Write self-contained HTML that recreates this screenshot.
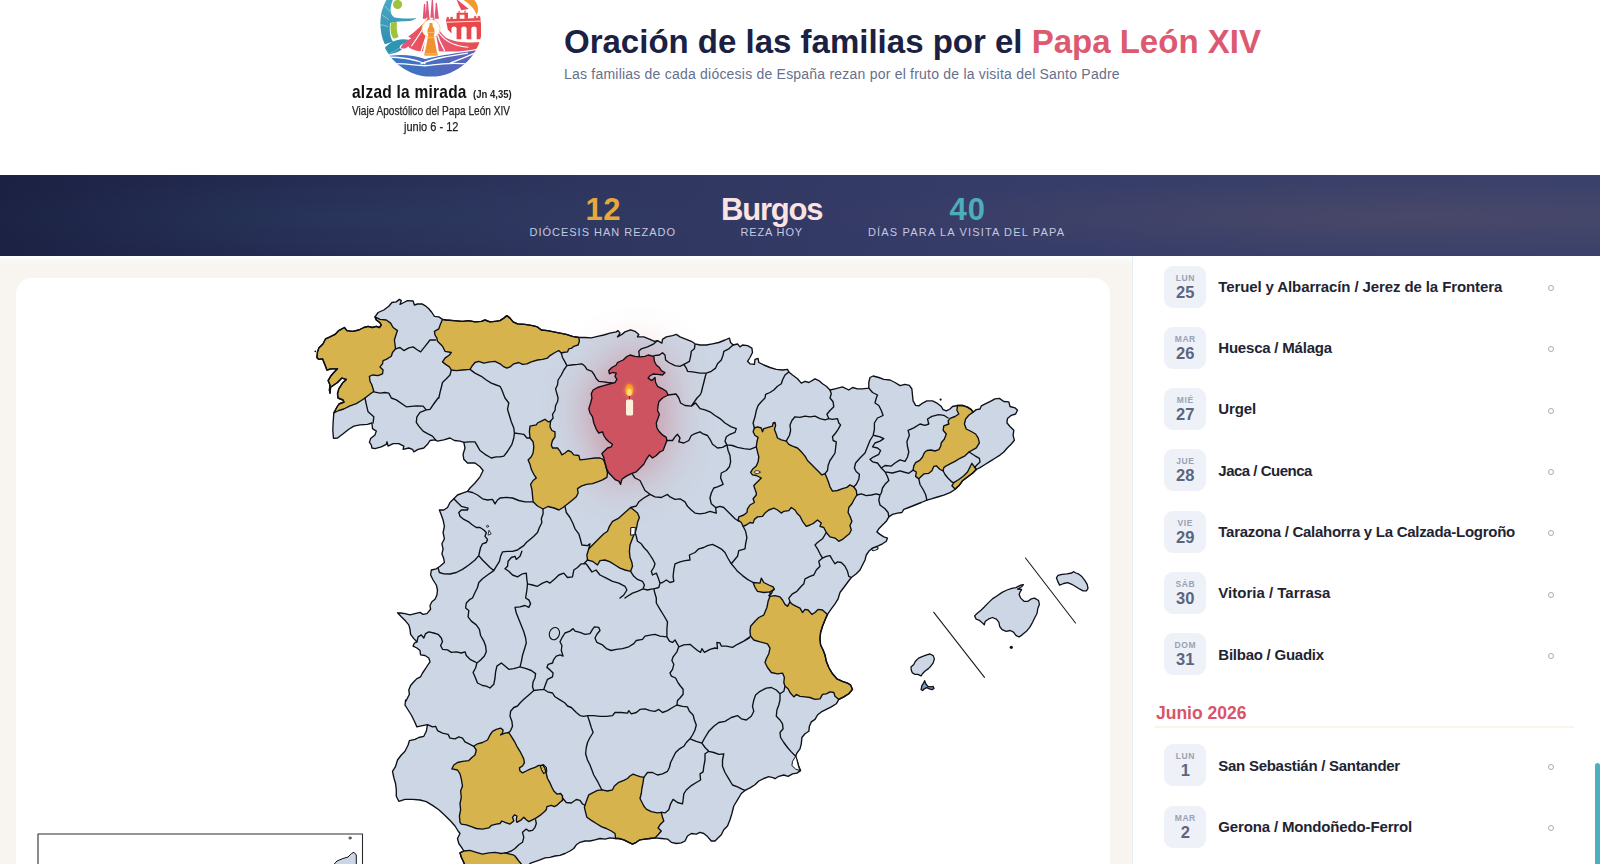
<!DOCTYPE html>
<html lang="es">
<head>
<meta charset="utf-8">
<title>Oración de las familias por el Papa León XIV</title>
<style>
*{box-sizing:border-box;margin:0;padding:0}
html,body{width:1600px;height:864px;overflow:hidden;background:#f8f5f0;font-family:"Liberation Sans","DejaVu Sans",sans-serif;color:#1b2140}
.abs{position:absolute}
#hdr{position:absolute;left:0;top:0;width:1600px;height:175px;background:#fff}
#title{position:absolute;left:564px;top:21.5px;font-size:33px;font-weight:700;color:#1b2143;white-space:nowrap;letter-spacing:0;line-height:40px}
#title span{color:#dc5a70}
#sub{position:absolute;left:564px;top:64px;font-size:14px;letter-spacing:.216px;color:#66708c;white-space:nowrap;line-height:20px}
#band{position:absolute;left:0;top:175px;width:1600px;height:81px;background:radial-gradient(ellipse 620px 38px at 88% 52%,rgba(232,150,100,.085),rgba(232,150,100,0) 100%),radial-gradient(ellipse 420px 38px at 22% 52%,rgba(74,171,184,.06),rgba(74,171,184,0) 100%),linear-gradient(100deg,#1b2142 0%,#252c53 18%,#2f365f 38%,#353c68 60%,#394069 85%,#3a416b 100%)}
.num{position:absolute;top:17.5px;font-weight:700;font-size:31px;line-height:34px;white-space:nowrap}
.lbl{position:absolute;top:50px;font-size:11px;color:#c4c8e0;line-height:14px;white-space:nowrap}
#card{position:absolute;left:16px;top:278px;width:1094px;height:620px;background:#fff;border-radius:16px}
#side{position:absolute;left:1132px;top:256px;width:468px;height:608px;background:#fff;border-left:1px solid #e4edf1}
.it{position:absolute;left:0;width:467px;height:42px}
.bd{position:absolute;left:31.3px;top:0;width:42px;height:42px;border-radius:9px;background:#eef1f7;text-align:center}
.bd b{display:block;font-size:8.5px;letter-spacing:.6px;color:#99a2b4;line-height:9px;margin-top:8px}
.bd i{display:block;font-style:normal;font-weight:700;font-size:16.5px;color:#5a6680;line-height:16px;margin-top:1px}
.nm{position:absolute;left:85.3px;top:10.3px;font-size:15px;font-weight:700;color:#1f2433;line-height:22px;white-space:nowrap}
.dot{position:absolute;left:415px;top:19.5px;width:6px;height:6px;border:1px solid #a9abb0;border-radius:50%}
#mon{position:absolute;left:23px;top:444.5px;font-size:17.5px;font-weight:700;color:#d9546b;line-height:24px}
#monl{position:absolute;left:22px;top:469.5px;width:419px;height:2px;background:#fbf5e7}
.lgt{position:absolute;white-space:nowrap;transform-origin:0 50%;color:#111}
#lg1{left:351.5px;top:81px;font-size:19px;font-weight:700;line-height:22px;transform:scaleX(.815);letter-spacing:.3px}
#lg1b{left:472.5px;top:87px;font-size:10.5px;font-weight:700;line-height:14px;transform:scaleX(.91);color:#222}
#lg2{left:351.5px;top:103px;font-size:13.5px;line-height:16px;transform:scaleX(.747);color:#222;-webkit-text-stroke:.25px #222}
#lg3{left:404px;top:119px;font-size:13.5px;line-height:16px;transform:scaleX(.814);color:#222;-webkit-text-stroke:.25px #222}
#wl{position:absolute;left:0;top:256px;width:1132px;height:9px;background:linear-gradient(#fff 0,#fff 22%,#fbf9f6 40%,#f8f5f0 100%)}
#sb{position:absolute;left:1595px;top:763px;width:5px;height:101px;background:#4fb0bd;border-radius:3px 3px 0 0}
</style>
</head>
<body>
<div id="hdr">
<svg id="logo" width="130" height="85" viewBox="0 0 1321 864" style="position:absolute;left:370px;top:0;overflow:hidden">
<defs>
<clipPath id="lc"><circle cx="620" cy="257" r="521"/></clipPath>
<linearGradient id="lb" x1="0" y1="0" x2="1" y2="0"><stop offset="0" stop-color="#3579c4"/><stop offset=".55" stop-color="#4a6dc0"/><stop offset="1" stop-color="#6a5cb4"/></linearGradient>
<linearGradient id="lr" x1="0" y1="0" x2="1" y2="0"><stop offset="0" stop-color="#e4557a"/><stop offset=".5" stop-color="#ea5463"/><stop offset="1" stop-color="#e84a45"/></linearGradient>
<linearGradient id="lt" x1="0" y1="0" x2="0" y2="1"><stop offset="0" stop-color="#4aa9c2"/><stop offset="1" stop-color="#2f8fb0"/></linearGradient>
</defs>
<g clip-path="url(#lc)">
<!-- teal dancer -->
<path d="M150 -20C95 120 85 320 150 450L235 425C200 380 195 300 205 235C230 222 300 218 400 214C440 205 465 192 472 182C420 190 330 192 250 178C200 150 195 80 240 -20Z" fill="url(#lt)"/>
<path d="M150 60L205 120M120 150L190 200M108 250L185 270" stroke="#bfe4ec" stroke-width="9" fill="none" opacity=".7"/>
<circle cx="280" cy="45" r="46" fill="#9cc43c"/>
<path d="M213 232C232 224 258 222 274 226C268 280 274 340 292 372C276 388 250 394 236 390C208 350 202 290 213 232Z" fill="#9cc43c"/>
<!-- teal wave -->
<path d="M108 568C130 490 190 430 270 408C340 388 410 398 440 432C448 452 432 462 412 448C380 428 330 436 306 466C296 484 306 500 326 498C300 528 240 548 108 568Z" fill="#2f95b3"/>
<path d="M160 560C260 520 330 470 350 440" stroke="#a8dbe6" stroke-width="8" fill="none" opacity=".6"/>
<!-- sagrada spires -->
<path d="M548 40L560 40L572 190L536 190ZM575 10L588 10L604 180L566 180ZM628 -10L640 -10L650 180L614 180ZM668 30L680 30L700 190L656 190Z" fill="#e4557a"/>
<!-- left fan -->
<path d="M596 170C540 260 430 340 388 372L420 392C350 420 320 460 314 488C340 500 372 492 388 470C400 500 470 520 540 522C548 440 580 320 612 200Z" fill="url(#lr)"/>
<path d="M560 250C520 330 470 400 420 470M590 300C570 380 540 450 520 520" stroke="#fff" stroke-width="12" fill="none"/>
<!-- right fan / swoosh -->
<path d="M648 170C668 250 700 320 770 380C850 428 1000 440 1135 428L1125 480C1040 520 860 530 700 522C690 440 668 320 634 200Z" fill="url(#lr)"/>
<path d="M668 300C690 380 720 450 760 520M700 330C760 420 850 470 1000 480" stroke="#fff" stroke-width="12" fill="none"/>
<!-- halo + statue -->
<circle cx="620" cy="290" r="92" fill="#fff" stroke="#f3cf8a" stroke-width="9"/>
<path d="M606 234L634 234L638 270C658 290 662 330 648 360L682 540L556 540L592 360C578 330 582 290 602 270Z" fill="#f0922f"/>
<path d="M546 540L692 540L684 566L556 566Z" fill="#f2a53a"/>
<path d="M580 330L660 330M574 380L668 380" stroke="#fbd9a8" stroke-width="7" fill="none" opacity=".8"/>
<!-- aqueduct -->
<path d="M770 196L1122 184L1128 250L1128 400L1084 400L1084 290C1084 262 1030 262 1030 290L1030 400L982 400L982 290C982 262 928 262 928 290L928 400L880 400L880 290C880 262 828 262 828 290L828 340L790 300Z" fill="#e8484a"/>
<path d="M776 226L1124 214" stroke="#fff" stroke-width="9" fill="none"/>
<path d="M782 196L782 176L800 176L800 196M820 195L820 175L838 175L838 195M1060 188L1060 168L1078 168L1078 188M1098 186L1098 166L1116 166L1116 186" fill="#e8484a" stroke="#e8484a" stroke-width="6"/>
<path d="M880 192L880 130L900 130L900 108L912 108L912 130L960 130L960 106L972 106L972 130L996 130L996 190Z" fill="#e8484a"/>
<path d="M912 150L960 150L960 190L912 190Z" fill="#fff"/>
<!-- sail + flame -->
<path d="M878 -10L1004 92L928 104L902 52Z" fill="#e84a5a"/>
<path d="M935 -10C1000 30 1060 80 1082 150C1110 110 1104 40 1050 -10Z" fill="#f39a2e"/>
<!-- sea -->
<path d="M96 588C240 548 420 548 560 600C700 560 900 540 1130 500L1180 900L60 900Z" fill="url(#lb)"/>
<path d="M130 580C300 575 450 600 560 648M520 648C640 590 800 570 990 540M230 648C420 640 520 690 640 660C760 640 880 640 1010 650M820 640C900 610 1000 570 1110 520" stroke="#fff" stroke-width="13" fill="none" stroke-linecap="round"/>
</g>
</svg>
<div id="lg1" class="lgt">alzad la mirada</div><div id="lg1b" class="lgt">(Jn 4,35)</div>
<div id="lg2" class="lgt">Viaje Apostólico del Papa León XIV</div>
<div id="lg3" class="lgt">junio 6 - 12</div>

<div id="title">Oración de las familias por el <span>Papa León XIV</span></div>
<div id="sub">Las familias de cada diócesis de España rezan por el fruto de la visita del Santo Padre</div>
</div>
<div id="band">
<div class="num" style="left:585.5px;color:#eaa83a;letter-spacing:.6px">12</div><div class="lbl" style="left:529.5px;letter-spacing:.99px">DIÓCESIS HAN REZADO</div>
<div class="num" style="left:721px;color:#fbe3e3;letter-spacing:-1.2px">Burgos</div><div class="lbl" style="left:740.5px;letter-spacing:.86px">REZA HOY</div>
<div class="num" style="left:949.5px;color:#4dadba;letter-spacing:1px">40</div><div class="lbl" style="left:868px;letter-spacing:1.17px">DÍAS PARA LA VISITA DEL PAPA</div>
</div>
<div id="wl"></div>
<div id="card">

</div>
<svg id="map" width="1600" height="864" viewBox="0 0 1600 864" style="position:absolute;left:0;top:0;overflow:hidden">
<defs><filter id="glow" x="-100%" y="-100%" width="300%" height="300%"><feGaussianBlur stdDeviation="24"/></filter><radialGradient id="fl" cx="50%" cy="70%" r="70%"><stop offset="0" stop-color="#ffd84a"/><stop offset=".55" stop-color="#fba931"/><stop offset="1" stop-color="#f28a22"/></radialGradient><filter id="fb" x="-50%" y="-50%" width="200%" height="200%"><feGaussianBlur stdDeviation=".7"/></filter><radialGradient id="halo" cx="50%" cy="50%" r="50%"><stop offset="0" stop-color="#ff9e3c" stop-opacity=".55"/><stop offset="1" stop-color="#ffb43c" stop-opacity="0"/></radialGradient></defs>
<g stroke-linejoin="round" stroke-linecap="round">
<path d="M333.5 438.3 L332.8 430.5 L333.1 423 L333.8 413 L337 407 L339 404 L344 402 L343 400 L338 398 L337.5 393.8 L338.8 388.8 L342.5 383.1 L346.3 379.4 L341.9 378.1 L337.5 382.5 L330.6 387.3 L330 393.1 L329.4 390 L330 385 L328.1 380.6 L330.6 376.3 L333.8 372.5 L337.5 368.8 L331.3 368.8 L326.9 370 L325 365 L322.5 358.8 L318.8 359.4 L316.9 357.5 L317.5 351.9 L318.8 348.1 L323.1 343.8 L325.6 338.8 L330 336.9 L335 334.4 L338.8 330.6 L344.4 327.5 L346.9 330.6 L352.5 331.3 L358.8 330 L363.8 327.5 L368.1 326.3 L372.5 327.5 L376.3 326.3 L379.4 327.5 L381.3 325 L380 322.8 L376.3 320 L375 316.9 L378.1 312.5 L383.8 310 L388.8 306.3 L391.9 302.5 L396.3 301.9 L399.4 299.4 L401.3 300.6 L400 304.4 L403.8 302.5 L407.5 300.6 L413.1 301 L414.4 305 L417.5 304 L421.9 303.8 L425 305.6 L428.8 308.8 L431.9 312.5 L434.4 316.3 L438.8 316.9 L442.5 319.4 L446.3 320 L453.8 320.6 L462.5 321.3 L468.8 320.6 L475 321.9 L481.3 321.3 L485 320 L490 321.9 L495 321.3 L500 320.6 L503.8 318.1 L506.9 315.6 L510 318.1 L513.1 321.9 L517.5 323.8 L525 324.4 L532.5 325.6 L537.5 326.9 L541.3 330 L547.5 330.6 L553.8 331.9 L560 333.1 L566.3 334.4 L572.5 336.3 L578.8 337.5 L585 337.5 L591.3 337.8 L597.5 336.3 L603.8 335 L610 333.1 L616.3 331.9 L618.1 330.6 L620 333.1 L617.5 336.9 L621.9 334.4 L625 331.9 L630.6 329.8 L635 331.3 L638.8 334.4 L637.5 336.9 L643.8 336.9 L650 339.4 L654.4 341.3 L657.5 340.6 L661.9 343.1 L662.5 339.4 L666.3 336.9 L672.5 335.6 L676.3 334.4 L680 336.9 L686.3 339.4 L691.3 341.3 L695 343.8 L700 345 L706.3 345 L712.5 343.8 L718.8 342.5 L725 340 L729.4 338.1 L730.6 342.5 L733.1 345 L737.5 344 L740 346.9 L742.5 345 L747.5 345.6 L751.9 348.1 L752.5 352.5 L750 357.5 L747.5 361.3 L750 363.8 L754.4 364.4 L755 359.4 L758.1 358.5 L758.8 362.5 L763.8 365 L770 367.5 L776.3 369.4 L782.5 370 L787.5 369.4 L788.8 371.9 L792.5 375 L797.5 378.8 L801.3 383.1 L805 381.3 L808.8 382.5 L815 378.8 L818.8 380.6 L822.5 383.8 L826.3 386.3 L830 390 L835 388.8 L842.5 386.9 L848.8 390 L852.5 387.5 L857.5 388.8 L862.5 388.8 L868.8 388.1 L868.8 382.5 L870 377.5 L873.1 376 L878.8 377.5 L883.8 379.4 L890 380 L895 382.5 L900 385.6 L905 384.3 L909.4 385.3 L911.9 389 L912.5 395.3 L913.1 400.9 L915.6 405.3 L918.8 405.9 L923.1 402.8 L926.9 400.9 L932.5 400.9 L937.5 403.4 L941.3 406.5 L943.1 409.6 L946.3 410.9 L950 409 L952.5 406.5 L957.5 405.5 L962.5 405.3 L967.5 407.1 L971.3 409.6 L973.1 412.1 L976.3 409.6 L980 409 L981.3 405.9 L986.3 403.4 L991.3 400.9 L995 398.8 L999.4 398.4 L1003.8 401.5 L1008.8 401.8 L1010 406.5 L1015 407.8 L1017.5 410.3 L1015.6 414 L1011.3 415.3 L1007.5 418.4 L1006.9 422.8 L1010 426.5 L1013.8 430.3 L1013.1 435.3 L1014.4 440.3 L1011.3 444 L1007.5 447.8 L1003.8 452 L1000 455.1 L995 458.3 L990 461.4 L985 464.5 L980 467.6 L976.3 469.5 L972.5 473.3 L967.5 477 L962.5 480.8 L958.8 485.8 L955 489.5 L950 492.6 L943.8 495.1 L937.5 497 L931.3 498.9 L926.9 500.1 L921.3 502.5 L915 505 L908.8 507.5 L903.8 509.4 L901.9 512.5 L897.5 513.1 L892.5 514.4 L888.8 516.9 L886.3 521.3 L882.5 525 L878.8 528.8 L876.9 531.9 L880 534.4 L883.8 536.9 L887.5 538.1 L886.3 541.3 L882.5 543.8 L878.8 545.6 L872.5 548.1 L868.8 551.3 L866.3 555 L865 560 L862.5 565 L860 570 L856.3 573.8 L851.3 577.5 L847.5 582.5 L843.8 587.5 L840 592.5 L838.1 598.8 L835 603.8 L831.3 608.8 L827.5 614.4 L825 620 L822.5 626.3 L820.6 632.5 L820 638.8 L820.6 645 L823.1 650 L825 655 L826.3 661.3 L828.8 667.5 L832.5 673.8 L836.9 678.8 L842.5 681.3 L847.5 683.1 L850.6 685 L852.5 689.4 L848.8 693.8 L843.8 696.9 L838.8 699.4 L836.3 703.8 L831.3 706.9 L826.3 709.4 L821.3 711.9 L817.5 715 L815 719.4 L811.3 721.9 L809.4 726.3 L808.8 731.3 L805 733.8 L801.9 737.5 L801.3 743.8 L800 748.8 L796.9 753.1 L795.6 756.3 L797.5 761.3 L798.8 766.3 L800.6 770.6 L796.9 773.1 L792.5 773.8 L788.1 776.3 L783.8 775 L778.8 776.3 L775 778.8 L773.8 777.9 L768.8 776.6 L763.8 778.5 L758.8 781 L755 784.8 L750 787.9 L745 790.4 L741.3 793.5 L737.5 799.8 L733.8 806 L731.9 813.5 L730 819.8 L727.5 826 L723.8 829.8 L721.3 834.8 L717.5 838.5 L715 841 L711.3 841 L707.5 836.6 L703.8 833.5 L700 832.3 L696.3 834.1 L691.3 833.5 L687.5 836 L685 841 L681.3 842.9 L676.3 843.5 L671.3 842.3 L667.5 839.1 L661.3 838.5 L655 837.9 L650 838.5 L645 839.1 L640 839.8 L636.3 842.3 L632.5 844.1 L628.8 842.3 L623.8 839.8 L618.8 838.5 L615.6 838.5 L610 837.9 L605 839.1 L600 838.5 L595 839.8 L590 841 L585 841 L580 842.3 L576.3 844.8 L573.8 848.5 L570 851 L565 853.5 L560 855.4 L555 856 L550 857.3 L545 857.9 L540 859.8 L535 861.6 L531.3 862.9 L529.4 864 L527 870 L464.4 870 L464.4 864 L463.1 861 L461.3 857.3 L460 852.9 L463.8 851 L461.9 847.9 L458.8 843.5 L457.5 838.5 L460 833.5 L458.1 831 L455 826 L450.6 821 L445 815.4 L438.8 809.8 L432.5 805.4 L426.3 801.6 L420 800 L412.5 799.4 L405 799.4 L398.8 801.3 L396.3 796.3 L396.3 790 L395.6 783.8 L393.8 777.5 L392.5 771.3 L395.6 766.3 L397.5 760 L401.3 755 L405 751.3 L408.1 745 L409.4 740.6 L415 739.4 L418.8 737.5 L423.8 736.3 L426.3 731.3 L427.5 724.6 L422.5 725.6 L416.9 726.9 L414.4 721.3 L411.3 715 L408.1 710 L405 705 L405.6 700 L405.6 701.8 L407.5 698 L409.4 694.3 L408.8 689.9 L410.6 685.5 L413.8 681.8 L416.9 678.6 L420.6 676.8 L422.5 673 L425 669.3 L427.5 665.5 L430 661.8 L428.8 658 L425 655.5 L420.6 654.9 L420 650.5 L416.9 648 L413.1 646.1 L414.4 643 L416.9 641.8 L413.8 638.6 L410.6 634.3 L410 629.3 L408.8 624.9 L405.6 621.1 L401.3 616.8 L397.5 612.8 L400.6 613 L405 613.6 L410 614.9 L415 613.6 L420 612.4 L423.1 614.3 L426.9 613.6 L430.6 609.3 L430 605.5 L431.9 601.8 L435 599.3 L435.6 598 L436.9 595 L437.5 590 L436.3 585 L433.1 580 L430.6 575 L431.3 570 L436.3 568.8 L440 566.3 L444.4 562.5 L443.8 558.8 L441.9 553.8 L443.1 548.8 L441.9 543.8 L444.4 538.8 L443.1 532.5 L444.4 526.3 L443.1 520 L441.3 515 L439.4 510 L443.8 510 L447.5 507.5 L450 502.5 L453.8 498.8 L457.5 495 L462.5 493.1 L467.5 491.3 L470 488 L475 483 L480 476.8 L483.1 470.5 L480 466.8 L475 463 L467.5 463 L463.8 459.3 L463.1 454.3 L465 448 L463.8 442.4 L460 441.1 L454.4 440.5 L450 438 L443.8 439.9 L437.5 441.1 L435 439.9 L430 440.5 L427.5 444.3 L423.8 448 L418.1 449.3 L413.8 451.8 L412.5 449.3 L408.8 448 L403.1 449.3 L403.8 446.1 L398.8 443.6 L393.1 443.6 L388.1 446.1 L386.9 441.8 L386.3 444.3 L381.3 446.8 L375 448.6 L371.9 448 L371.3 444.9 L369.4 442.4 L370.6 438.6 L375 434.9 L376.3 431.1 L372.5 428.6 L371.9 423 L367.5 424.3 L360 424.9 L353.8 426.1 L348.8 429.3 L342.5 434.3 L337.5 438 L333.5 438.3Z" fill="#ccd6e4"/>
<path d="M591.9 398 L591.3 393.8 L593.1 390 L597.5 387.5 L603.8 385.6 L610 383.8 L615 382.5 L616.9 379.4 L615 376.3 L616.3 373.1 L612.5 372.5 L609.4 373.8 L608.8 370.6 L611.9 367.5 L616.3 365 L617.5 362.5 L623.1 360 L626.3 356.9 L630 355 L635 356.3 L640 356.9 L645 356.3 L648.1 355 L653.8 356.3 L654.4 361.3 L656.3 365 L659.4 367.5 L661.3 370.6 L665 372.5 L662.5 375 L657.5 374.4 L653 374 L649.4 376.3 L648.1 378.1 L651.9 380.6 L655 377.5 L655.6 382.5 L657.5 386.3 L662.5 388.8 L666.3 391.3 L668.1 395 L662.5 398 L658.8 401.8 L658.1 405.5 L657.5 410.5 L659.4 414.3 L658.1 418 L656.3 423 L656.9 428 L659.4 431.8 L662.5 434.9 L666.3 437.4 L666.9 440.5 L665 445.5 L663.1 450.5 L660 451.8 L656.3 455.5 L652.5 458 L649.4 454.9 L646.3 459.3 L643.8 464.3 L640 468 L636.3 471.8 L631.3 473.6 L626.3 476.1 L621.9 479.3 L620.6 484.3 L618.8 481.1 L615.6 479.9 L612.5 476.8 L608.8 473 L606.3 468 L605 463 L603.8 457.4 L601.9 453.6 L605 450.5 L607.5 448 L611.3 446.8 L612.5 444.3 L608.8 441.8 L606.3 439.3 L603.8 435.5 L602.5 431.8 L598.8 433 L596.3 429.3 L593.8 423 L592.5 416.8 L590 413 L588.8 408.6 L590.6 403Z" fill="#cd5361" opacity=".62" filter="url(#glow)"/>
<path d="M375 316.9 L380 319.4 L386.3 320 L390.6 323.1 L393.1 327.5 L397.5 330.6 L396.3 333.8 L394.4 340 L395.6 348.8 L392.5 352.5 L391.3 356.3 L386.3 359.4 L383.1 360.6 L382.5 363.8 L380 366.9 L383.1 370 L382.5 373.8 L378.1 375.6 L372.5 375 L369.4 376.3 L370 381.3 L371.9 385 L373.8 391.3 L365 398 L361.3 400.5 L356.3 403.6 L350 405.8 L343.8 409 L338.8 410.5 L333.8 413 L337 407 L339 404 L344 402 L343 400 L338 398 L337.5 393.8 L338.8 388.8 L342.5 383.1 L346.3 379.4 L341.9 378.1 L337.5 382.5 L330.6 387.3 L330 393.1 L329.4 390 L330 385 L328.1 380.6 L330.6 376.3 L333.8 372.5 L337.5 368.8 L331.3 368.8 L326.9 370 L325 365 L322.5 358.8 L318.8 359.4 L316.9 357.5 L317.5 351.9 L318.8 348.1 L323.1 343.8 L325.6 338.8 L330 336.9 L335 334.4 L338.8 330.6 L344.4 327.5 L346.9 330.6 L352.5 331.3 L358.8 330 L363.8 327.5 L368.1 326.3 L372.5 327.5 L376.3 326.3 L379.4 327.5 L381.3 325 L380 322.8 L376.3 320 L375 316.9Z" fill="#d6b34d"/>
<path d="M442.5 319.4 L446.3 320 L453.8 320.6 L462.5 321.3 L468.8 320.6 L475 321.9 L481.3 321.3 L485 320 L490 321.9 L495 321.3 L500 320.6 L503.8 318.1 L506.9 315.6 L510 318.1 L513.1 321.9 L517.5 323.8 L525 324.4 L532.5 325.6 L537.5 326.9 L541.3 330 L547.5 330.6 L553.8 331.9 L560 333.1 L566.3 334.4 L572.5 336.3 L578.8 337.5 L579.4 341.3 L578.1 345 L573.8 346.3 L571.9 348.1 L568.8 348.8 L567.5 351.9 L563.1 352.5 L561.3 353.1 L558.8 350.6 L555 352.5 L550 355.6 L547.5 358.1 L542.5 359.4 L537.5 360 L531.3 361.9 L526.9 363.8 L522.5 364.4 L518.8 362.5 L513.8 363.8 L510 366.9 L506.9 368.1 L503.1 366.3 L500 363.8 L495 361.3 L490 361.9 L483.8 363.1 L478.8 361.3 L475 362.5 L471.9 366.3 L470 369.4 L462.5 370 L456.3 370.6 L451.3 370 L449.4 366.9 L445.6 364.4 L442.5 361.9 L445 358.1 L449.4 355 L451.3 352.5 L445 351.3 L442.5 346.3 L437.5 341.3 L436.9 338.1 L435 335 L434.4 331.3 L438.8 328.8 L440.6 323.8 L442.5 319.4Z" fill="#d6b34d"/>
<path d="M545 419.3 L548.1 421.8 L550.6 421.1 L550 426.8 L551.9 430.5 L555 431.8 L555 436.8 L552.5 440.5 L551.3 444.9 L552.5 448 L557.5 448 L560 451.1 L561.9 454.9 L565 453 L568.1 450.5 L571.3 451.8 L573.8 454.9 L578.8 455.5 L580 459.9 L585 459.3 L590 458.6 L595 458 L600 458 L603.1 459.3 L605 463 L606.3 468 L607.5 473 L606.9 477.4 L602.5 479.9 L597.5 481.8 L592.5 483.6 L586.3 484.3 L581.3 486.1 L577.5 488.6 L578.1 493 L576.3 496.8 L572.5 499.9 L567.5 504 L563 507.5 L559 510 L554 508 L548 506.5 L543 509 L537.5 506 L533.1 501.8 L532.5 495.5 L531.9 489.3 L530.6 484.3 L533.1 480.5 L536.3 478 L533.8 474.3 L531.3 469.3 L530 464.3 L528.1 459.9 L531.3 456.8 L533.1 453 L533.8 446.8 L533.1 441.8 L530 438 L529.4 431.8 L530 426.1 L536.3 424.9 L537.5 423 L541.3 421.1Z" fill="#d6b34d"/>
<path d="M754.4 428 L757.5 426.8 L761.3 428 L762.5 431.8 L763.8 428.6 L768.1 427.4 L772.5 426.1 L773.1 423 L775 422.4 L775.6 425.5 L774.4 429.3 L776.3 434.3 L777.5 438 L781.3 439.9 L786.3 441.1 L788.8 444.3 L792.5 446.1 L797.5 448 L801.3 451.8 L805 456.1 L807.5 460.5 L811.3 464.3 L815 468 L818.8 471.8 L821.9 474.9 L825 473.6 L826.9 478 L828.8 483 L830 486.8 L832.5 491.1 L837.5 490.5 L842.5 488.6 L846.9 487.4 L850 484.9 L853.8 486.8 L856.3 490.5 L856.9 495 L853.8 500 L851.9 503.8 L848.8 507.5 L848.1 512.5 L850 516.3 L851.9 521.3 L850 525.6 L851.3 530 L849.4 533.8 L846.3 536.3 L842.5 539.4 L838.8 541.3 L835 538.1 L830 536.9 L826.3 532.5 L823.8 527.5 L820 526.3 L821.3 523.1 L817.5 520 L813.8 523.1 L810 525 L806.3 526.3 L802.5 521.3 L800 516.3 L797.5 513.8 L795 510 L791.3 507.5 L788.8 510.6 L783.8 511.3 L781.3 513.1 L777.5 510 L773.8 508.1 L768.8 510 L765 513.1 L762.5 516.3 L757.5 516.9 L754.4 519.4 L753.1 523.1 L750 522.5 L746.3 525 L743.1 526.3 L741.3 522.5 L738.1 520 L738.8 516.9 L743.8 515 L746.9 512.5 L747.5 508.8 L750 505 L754.4 502.5 L753.1 498.8 L756.3 495 L756.3 493 L755 489.3 L753.8 485.5 L756.3 483 L758.8 480.5 L761.3 478 L756.3 475.5 L752.5 474.9 L750.6 472.4 L752.5 469.3 L756.3 466.1 L758.1 461.8 L758.8 456.8 L757.5 451.8 L756.3 446.8 L756.9 441.8 L758.1 437.4 L755 435.5 L753.1 431.8 L754.4 428Z" fill="#d6b34d"/>
<path d="M957.5 405.5 L956.9 410.3 L958.8 414 L955 416.5 L950 418.4 L948.1 420.9 L948.8 424 L943.8 425.9 L943.1 430.3 L946.3 434 L944.4 439 L941.3 442.8 L940.6 446.5 L938.8 449.6 L935 451 L931 450 L927 450.5 L925 452 L923.8 453.9 L922.5 457 L920 460.1 L915.6 462.6 L913.8 465.8 L913.1 470.1 L916.3 472 L915.6 476.4 L918.8 478.9 L920.6 477 L923.8 473.9 L928.8 473.3 L931.9 470.8 L933.8 466.4 L936.3 465.8 L940 469.5 L943.1 470.8 L943.8 467.6 L946.3 465.8 L950 463.9 L955 461.4 L960 458.3 L965 455.8 L969 452 L976.3 447.8 L979.4 442.8 L978.1 437.8 L975.6 434 L971.3 431.5 L966.3 429 L964.4 424 L965.6 419 L968.8 415.3 L973.1 412.1 L971.3 409.6 L967.5 407.1 L962.5 405.3 L957.5 405.5Z" fill="#d6b34d"/>
<path d="M971.9 463.3 L976.3 469.5 L972.5 473.3 L967.5 477 L962.5 480.8 L958.8 485.8 L955 488.9 L951.9 485.8 L953.8 482.6 L958.8 479.5 L963.8 475.8 L967.5 472 L970 467Z" fill="#d6b34d"/>
<path d="M630.6 507.5 L633.8 510 L637.5 513.1 L639.4 517.5 L637.5 522.5 L636.9 526.3 L635.6 531.3 L633.8 535 L631.9 540 L630 545 L629.4 551.3 L630 557.5 L631.9 562.5 L632.5 566.3 L630.6 571.3 L625 570 L620 568.1 L615 565 L610 561.9 L605 560 L600 560.6 L597.5 565 L592.5 561.3 L587.5 560 L586.9 555 L588.8 548.8 L591.3 546.3 L595 542.5 L600 537.5 L603.8 533.8 L607.5 531.3 L609.4 526.3 L612.5 521.3 L618.8 518.1 L625 512.5Z" fill="#d6b34d"/>
<path d="M753.1 582.5 L760 583.1 L761.3 578.1 L763.8 582.5 L768.8 585 L773.1 586.9 L774.4 589.4 L770 591.9 L763.8 592.5 L757.5 591.3 L755 587.5Z" fill="#d6b34d"/>
<path d="M827.5 614.4 L822.5 610 L818.1 609.4 L815 612.5 L811.9 614.4 L808.1 610 L805 609.4 L802.5 612.5 L800 608.1 L796.3 606.3 L792.5 604.4 L790 601.9 L787.5 606.3 L785 604.4 L782.5 600 L780 596.9 L775 595.6 L770 596.3 L768.1 601.3 L766.9 607.5 L763.8 615 L758.8 617.5 L755 621.3 L750.6 626.3 L750 631.3 L750.6 636.3 L753.8 640 L760 641.9 L767.5 643.8 L770 648.1 L768.8 653.8 L766.3 658.8 L765 662.5 L767.5 667.5 L771.3 672.5 L777.5 673.8 L782.5 673.1 L784.4 677.5 L783.8 682.5 L785 686.3 L788.1 688.8 L790 692.5 L793.8 696.9 L796.3 694.4 L800 696.3 L805 696.9 L810 697.5 L815 699.4 L820 698.8 L822.5 694.4 L826.3 693.8 L830 691.9 L833.8 692.5 L835 696.3 L838.8 699.4 L843.8 696.9 L848.8 693.8 L852.5 689.4 L850.6 685 L847.5 683.1 L842.5 681.3 L836.9 678.8 L832.5 673.8 L828.8 667.5 L826.3 661.3 L825 655 L823.1 650 L820.6 645 L820 638.8 L820.6 632.5 L822.5 626.3 L825 620Z" fill="#d6b34d"/>
<path d="M500.6 728.1 L503.1 730 L502.5 733.1 L500.6 735 L505 733.1 L508.8 732.5 L511.3 736.3 L514.4 741.3 L516.9 746.3 L520 751.3 L522.5 756.3 L523.8 759.1 L524.4 762.9 L522.5 766 L519.4 767.9 L520 771 L522.5 772.9 L526.3 771 L530 769.1 L535 767.3 L538.8 765.4 L543.1 765.4 L545 768.5 L546.3 773.5 L547.5 778.5 L550 782.9 L551.9 787.3 L553.8 791 L556.9 794.1 L560.6 793.5 L562.5 796 L562.5 800.4 L560 802.3 L557.5 804.8 L554.4 806.6 L551.3 805.4 L546.9 806.6 L546.3 809.8 L543.8 812.3 L540 815.4 L536.3 817.9 L532.5 819.8 L528.8 821.6 L526.3 819.8 L523.8 817.3 L521.3 819.8 L516.9 822.3 L516.3 819.8 L516.9 816 L514.4 814.8 L512.5 817.3 L513.8 821 L510 824.1 L505 822.3 L501.9 821 L500 823.5 L496.3 824.1 L491.3 825.4 L488.8 827.9 L482.5 829.1 L476.3 828.5 L471.3 826.6 L466.3 824.8 L461.3 824.1 L460 822.3 L459.4 816 L460.6 809.8 L460 803.5 L461.3 797.3 L460.6 791 L462.5 786 L461.3 778.8 L460 773.8 L457.5 770 L451.9 768.8 L453.8 765 L457.5 762.5 L462.5 761.3 L468.8 760.6 L471.9 757.5 L475 755 L476.3 750 L473.8 746.3 L477.5 743.8 L482.5 742.5 L487.5 740 L490 735 L492.5 731.3 L496.3 729.4Z" fill="#d6b34d"/>
<path d="M463.8 851 L470 850.4 L476.3 852.3 L482.5 854.1 L488.8 852.9 L495 852.3 L501.3 853.5 L505 852.9 L510 854.1 L513.1 854.8 L515 856 L518.8 861 L521.3 864 L523 870 L464.4 870 L464.4 864 L463.1 861 L461.3 857.3 L460 852.9Z" fill="#d6b34d"/>
<path d="M633.1 774.1 L636.3 775.4 L640 776.6 L643.8 777.3 L643.1 782.3 L641.9 788.5 L641.3 793.5 L640 798.5 L641.9 802.3 L643.8 806 L646.3 809.1 L651.3 811.6 L657.5 812.9 L661.3 812.3 L662.5 817.3 L663.8 821 L660 824.8 L658.1 827.9 L661.3 831 L658.1 834.8 L655 837.9 L650 838.5 L645 839.1 L640 839.8 L636.3 842.3 L632.5 844.1 L628.8 842.3 L623.8 839.8 L618.8 838.5 L615.6 838.5 L615 833.5 L611.3 831 L606.3 828.5 L601.3 826.6 L596.3 823.5 L591.3 820.4 L586.9 817.3 L585.6 812.3 L584.4 807.3 L585.6 803.5 L586.9 799.8 L588.8 794.8 L592.5 792.9 L597.5 790.4 L601.9 789.8 L607.5 791 L612.5 789.8 L614.4 786 L618.8 782.3 L623.8 780.4 L627.5 778.5 L630 776Z" fill="#d6b34d"/>
<path d="M591.9 398 L591.3 393.8 L593.1 390 L597.5 387.5 L603.8 385.6 L610 383.8 L615 382.5 L616.9 379.4 L615 376.3 L616.3 373.1 L612.5 372.5 L609.4 373.8 L608.8 370.6 L611.9 367.5 L616.3 365 L617.5 362.5 L623.1 360 L626.3 356.9 L630 355 L635 356.3 L640 356.9 L645 356.3 L648.1 355 L653.8 356.3 L654.4 361.3 L656.3 365 L659.4 367.5 L661.3 370.6 L665 372.5 L662.5 375 L657.5 374.4 L653 374 L649.4 376.3 L648.1 378.1 L651.9 380.6 L655 377.5 L655.6 382.5 L657.5 386.3 L662.5 388.8 L666.3 391.3 L668.1 395 L662.5 398 L658.8 401.8 L658.1 405.5 L657.5 410.5 L659.4 414.3 L658.1 418 L656.3 423 L656.9 428 L659.4 431.8 L662.5 434.9 L666.3 437.4 L666.9 440.5 L665 445.5 L663.1 450.5 L660 451.8 L656.3 455.5 L652.5 458 L649.4 454.9 L646.3 459.3 L643.8 464.3 L640 468 L636.3 471.8 L631.3 473.6 L626.3 476.1 L621.9 479.3 L620.6 484.3 L618.8 481.1 L615.6 479.9 L612.5 476.8 L608.8 473 L606.3 468 L605 463 L603.8 457.4 L601.9 453.6 L605 450.5 L607.5 448 L611.3 446.8 L612.5 444.3 L608.8 441.8 L606.3 439.3 L603.8 435.5 L602.5 431.8 L598.8 433 L596.3 429.3 L593.8 423 L592.5 416.8 L590 413 L588.8 408.6 L590.6 403Z" fill="#cd5361"/>
<g fill="none" stroke="#0d1016" stroke-width="1.35">
<path d="M333.5 438.3 L332.8 430.5 L333.1 423 L333.8 413 L337 407 L339 404 L344 402 L343 400 L338 398 L337.5 393.8 L338.8 388.8 L342.5 383.1 L346.3 379.4 L341.9 378.1 L337.5 382.5 L330.6 387.3 L330 393.1 L329.4 390 L330 385 L328.1 380.6 L330.6 376.3 L333.8 372.5 L337.5 368.8 L331.3 368.8 L326.9 370 L325 365 L322.5 358.8 L318.8 359.4 L316.9 357.5 L317.5 351.9 L318.8 348.1 L323.1 343.8 L325.6 338.8 L330 336.9 L335 334.4 L338.8 330.6 L344.4 327.5 L346.9 330.6 L352.5 331.3 L358.8 330 L363.8 327.5 L368.1 326.3 L372.5 327.5 L376.3 326.3 L379.4 327.5 L381.3 325 L380 322.8 L376.3 320 L375 316.9 L378.1 312.5 L383.8 310 L388.8 306.3 L391.9 302.5 L396.3 301.9 L399.4 299.4 L401.3 300.6 L400 304.4 L403.8 302.5 L407.5 300.6 L413.1 301 L414.4 305 L417.5 304 L421.9 303.8 L425 305.6 L428.8 308.8 L431.9 312.5 L434.4 316.3 L438.8 316.9 L442.5 319.4 L446.3 320 L453.8 320.6 L462.5 321.3 L468.8 320.6 L475 321.9 L481.3 321.3 L485 320 L490 321.9 L495 321.3 L500 320.6 L503.8 318.1 L506.9 315.6 L510 318.1 L513.1 321.9 L517.5 323.8 L525 324.4 L532.5 325.6 L537.5 326.9 L541.3 330 L547.5 330.6 L553.8 331.9 L560 333.1 L566.3 334.4 L572.5 336.3 L578.8 337.5 L585 337.5 L591.3 337.8 L597.5 336.3 L603.8 335 L610 333.1 L616.3 331.9 L618.1 330.6 L620 333.1 L617.5 336.9 L621.9 334.4 L625 331.9 L630.6 329.8 L635 331.3 L638.8 334.4 L637.5 336.9 L643.8 336.9 L650 339.4 L654.4 341.3 L657.5 340.6 L661.9 343.1 L662.5 339.4 L666.3 336.9 L672.5 335.6 L676.3 334.4 L680 336.9 L686.3 339.4 L691.3 341.3 L695 343.8 L700 345 L706.3 345 L712.5 343.8 L718.8 342.5 L725 340 L729.4 338.1 L730.6 342.5 L733.1 345 L737.5 344 L740 346.9 L742.5 345 L747.5 345.6 L751.9 348.1 L752.5 352.5 L750 357.5 L747.5 361.3 L750 363.8 L754.4 364.4 L755 359.4 L758.1 358.5 L758.8 362.5 L763.8 365 L770 367.5 L776.3 369.4 L782.5 370 L787.5 369.4 L788.8 371.9 L792.5 375 L797.5 378.8 L801.3 383.1 L805 381.3 L808.8 382.5 L815 378.8 L818.8 380.6 L822.5 383.8 L826.3 386.3 L830 390 L835 388.8 L842.5 386.9 L848.8 390 L852.5 387.5 L857.5 388.8 L862.5 388.8 L868.8 388.1 L868.8 382.5 L870 377.5 L873.1 376 L878.8 377.5 L883.8 379.4 L890 380 L895 382.5 L900 385.6 L905 384.3 L909.4 385.3 L911.9 389 L912.5 395.3 L913.1 400.9 L915.6 405.3 L918.8 405.9 L923.1 402.8 L926.9 400.9 L932.5 400.9 L937.5 403.4 L941.3 406.5 L943.1 409.6 L946.3 410.9 L950 409 L952.5 406.5 L957.5 405.5 L962.5 405.3 L967.5 407.1 L971.3 409.6 L973.1 412.1 L976.3 409.6 L980 409 L981.3 405.9 L986.3 403.4 L991.3 400.9 L995 398.8 L999.4 398.4 L1003.8 401.5 L1008.8 401.8 L1010 406.5 L1015 407.8 L1017.5 410.3 L1015.6 414 L1011.3 415.3 L1007.5 418.4 L1006.9 422.8 L1010 426.5 L1013.8 430.3 L1013.1 435.3 L1014.4 440.3 L1011.3 444 L1007.5 447.8 L1003.8 452 L1000 455.1 L995 458.3 L990 461.4 L985 464.5 L980 467.6 L976.3 469.5 L972.5 473.3 L967.5 477 L962.5 480.8 L958.8 485.8 L955 489.5 L950 492.6 L943.8 495.1 L937.5 497 L931.3 498.9 L926.9 500.1 L921.3 502.5 L915 505 L908.8 507.5 L903.8 509.4 L901.9 512.5 L897.5 513.1 L892.5 514.4 L888.8 516.9 L886.3 521.3 L882.5 525 L878.8 528.8 L876.9 531.9 L880 534.4 L883.8 536.9 L887.5 538.1 L886.3 541.3 L882.5 543.8 L878.8 545.6 L872.5 548.1 L868.8 551.3 L866.3 555 L865 560 L862.5 565 L860 570 L856.3 573.8 L851.3 577.5 L847.5 582.5 L843.8 587.5 L840 592.5 L838.1 598.8 L835 603.8 L831.3 608.8 L827.5 614.4 L825 620 L822.5 626.3 L820.6 632.5 L820 638.8 L820.6 645 L823.1 650 L825 655 L826.3 661.3 L828.8 667.5 L832.5 673.8 L836.9 678.8 L842.5 681.3 L847.5 683.1 L850.6 685 L852.5 689.4 L848.8 693.8 L843.8 696.9 L838.8 699.4 L836.3 703.8 L831.3 706.9 L826.3 709.4 L821.3 711.9 L817.5 715 L815 719.4 L811.3 721.9 L809.4 726.3 L808.8 731.3 L805 733.8 L801.9 737.5 L801.3 743.8 L800 748.8 L796.9 753.1 L795.6 756.3 L797.5 761.3 L798.8 766.3 L800.6 770.6 L796.9 773.1 L792.5 773.8 L788.1 776.3 L783.8 775 L778.8 776.3 L775 778.8 L773.8 777.9 L768.8 776.6 L763.8 778.5 L758.8 781 L755 784.8 L750 787.9 L745 790.4 L741.3 793.5 L737.5 799.8 L733.8 806 L731.9 813.5 L730 819.8 L727.5 826 L723.8 829.8 L721.3 834.8 L717.5 838.5 L715 841 L711.3 841 L707.5 836.6 L703.8 833.5 L700 832.3 L696.3 834.1 L691.3 833.5 L687.5 836 L685 841 L681.3 842.9 L676.3 843.5 L671.3 842.3 L667.5 839.1 L661.3 838.5 L655 837.9 L650 838.5 L645 839.1 L640 839.8 L636.3 842.3 L632.5 844.1 L628.8 842.3 L623.8 839.8 L618.8 838.5 L615.6 838.5 L610 837.9 L605 839.1 L600 838.5 L595 839.8 L590 841 L585 841 L580 842.3 L576.3 844.8 L573.8 848.5 L570 851 L565 853.5 L560 855.4 L555 856 L550 857.3 L545 857.9 L540 859.8 L535 861.6 L531.3 862.9 L529.4 864 L527 870 L464.4 870 L464.4 864 L463.1 861 L461.3 857.3 L460 852.9 L463.8 851 L461.9 847.9 L458.8 843.5 L457.5 838.5 L460 833.5 L458.1 831 L455 826 L450.6 821 L445 815.4 L438.8 809.8 L432.5 805.4 L426.3 801.6 L420 800 L412.5 799.4 L405 799.4 L398.8 801.3 L396.3 796.3 L396.3 790 L395.6 783.8 L393.8 777.5 L392.5 771.3 L395.6 766.3 L397.5 760 L401.3 755 L405 751.3 L408.1 745 L409.4 740.6 L415 739.4 L418.8 737.5 L423.8 736.3 L426.3 731.3 L427.5 724.6 L422.5 725.6 L416.9 726.9 L414.4 721.3 L411.3 715 L408.1 710 L405 705 L405.6 700 L405.6 701.8 L407.5 698 L409.4 694.3 L408.8 689.9 L410.6 685.5 L413.8 681.8 L416.9 678.6 L420.6 676.8 L422.5 673 L425 669.3 L427.5 665.5 L430 661.8 L428.8 658 L425 655.5 L420.6 654.9 L420 650.5 L416.9 648 L413.1 646.1 L414.4 643 L416.9 641.8 L413.8 638.6 L410.6 634.3 L410 629.3 L408.8 624.9 L405.6 621.1 L401.3 616.8 L397.5 612.8 L400.6 613 L405 613.6 L410 614.9 L415 613.6 L420 612.4 L423.1 614.3 L426.9 613.6 L430.6 609.3 L430 605.5 L431.9 601.8 L435 599.3 L435.6 598 L436.9 595 L437.5 590 L436.3 585 L433.1 580 L430.6 575 L431.3 570 L436.3 568.8 L440 566.3 L444.4 562.5 L443.8 558.8 L441.9 553.8 L443.1 548.8 L441.9 543.8 L444.4 538.8 L443.1 532.5 L444.4 526.3 L443.1 520 L441.3 515 L439.4 510 L443.8 510 L447.5 507.5 L450 502.5 L453.8 498.8 L457.5 495 L462.5 493.1 L467.5 491.3 L470 488 L475 483 L480 476.8 L483.1 470.5 L480 466.8 L475 463 L467.5 463 L463.8 459.3 L463.1 454.3 L465 448 L463.8 442.4 L460 441.1 L454.4 440.5 L450 438 L443.8 439.9 L437.5 441.1 L435 439.9 L430 440.5 L427.5 444.3 L423.8 448 L418.1 449.3 L413.8 451.8 L412.5 449.3 L408.8 448 L403.1 449.3 L403.8 446.1 L398.8 443.6 L393.1 443.6 L388.1 446.1 L386.9 441.8 L386.3 444.3 L381.3 446.8 L375 448.6 L371.9 448 L371.3 444.9 L369.4 442.4 L370.6 438.6 L375 434.9 L376.3 431.1 L372.5 428.6 L371.9 423 L367.5 424.3 L360 424.9 L353.8 426.1 L348.8 429.3 L342.5 434.3 L337.5 438 L333.5 438.3Z"/>
<path d="M375 316.9 L380 319.4 L386.3 320 L390.6 323.1 L393.1 327.5 L397.5 330.6 L396.3 333.8 L394.4 340 L395.6 348.8 L392.5 352.5 L391.3 356.3 L386.3 359.4 L383.1 360.6 L382.5 363.8 L380 366.9 L383.1 370 L382.5 373.8 L378.1 375.6 L372.5 375 L369.4 376.3 L370 381.3 L371.9 385 L373.8 391.3 L365 398 L361.3 400.5 L356.3 403.6 L350 405.8 L343.8 409 L338.8 410.5 L333.8 413 L337 407 L339 404 L344 402 L343 400 L338 398 L337.5 393.8 L338.8 388.8 L342.5 383.1 L346.3 379.4 L341.9 378.1 L337.5 382.5 L330.6 387.3 L330 393.1 L329.4 390 L330 385 L328.1 380.6 L330.6 376.3 L333.8 372.5 L337.5 368.8 L331.3 368.8 L326.9 370 L325 365 L322.5 358.8 L318.8 359.4 L316.9 357.5 L317.5 351.9 L318.8 348.1 L323.1 343.8 L325.6 338.8 L330 336.9 L335 334.4 L338.8 330.6 L344.4 327.5 L346.9 330.6 L352.5 331.3 L358.8 330 L363.8 327.5 L368.1 326.3 L372.5 327.5 L376.3 326.3 L379.4 327.5 L381.3 325 L380 322.8 L376.3 320 L375 316.9Z"/>
<path d="M442.5 319.4 L446.3 320 L453.8 320.6 L462.5 321.3 L468.8 320.6 L475 321.9 L481.3 321.3 L485 320 L490 321.9 L495 321.3 L500 320.6 L503.8 318.1 L506.9 315.6 L510 318.1 L513.1 321.9 L517.5 323.8 L525 324.4 L532.5 325.6 L537.5 326.9 L541.3 330 L547.5 330.6 L553.8 331.9 L560 333.1 L566.3 334.4 L572.5 336.3 L578.8 337.5 L579.4 341.3 L578.1 345 L573.8 346.3 L571.9 348.1 L568.8 348.8 L567.5 351.9 L563.1 352.5 L561.3 353.1 L558.8 350.6 L555 352.5 L550 355.6 L547.5 358.1 L542.5 359.4 L537.5 360 L531.3 361.9 L526.9 363.8 L522.5 364.4 L518.8 362.5 L513.8 363.8 L510 366.9 L506.9 368.1 L503.1 366.3 L500 363.8 L495 361.3 L490 361.9 L483.8 363.1 L478.8 361.3 L475 362.5 L471.9 366.3 L470 369.4 L462.5 370 L456.3 370.6 L451.3 370 L449.4 366.9 L445.6 364.4 L442.5 361.9 L445 358.1 L449.4 355 L451.3 352.5 L445 351.3 L442.5 346.3 L437.5 341.3 L436.9 338.1 L435 335 L434.4 331.3 L438.8 328.8 L440.6 323.8 L442.5 319.4Z"/>
<path d="M545 419.3 L548.1 421.8 L550.6 421.1 L550 426.8 L551.9 430.5 L555 431.8 L555 436.8 L552.5 440.5 L551.3 444.9 L552.5 448 L557.5 448 L560 451.1 L561.9 454.9 L565 453 L568.1 450.5 L571.3 451.8 L573.8 454.9 L578.8 455.5 L580 459.9 L585 459.3 L590 458.6 L595 458 L600 458 L603.1 459.3 L605 463 L606.3 468 L607.5 473 L606.9 477.4 L602.5 479.9 L597.5 481.8 L592.5 483.6 L586.3 484.3 L581.3 486.1 L577.5 488.6 L578.1 493 L576.3 496.8 L572.5 499.9 L567.5 504 L563 507.5 L559 510 L554 508 L548 506.5 L543 509 L537.5 506 L533.1 501.8 L532.5 495.5 L531.9 489.3 L530.6 484.3 L533.1 480.5 L536.3 478 L533.8 474.3 L531.3 469.3 L530 464.3 L528.1 459.9 L531.3 456.8 L533.1 453 L533.8 446.8 L533.1 441.8 L530 438 L529.4 431.8 L530 426.1 L536.3 424.9 L537.5 423 L541.3 421.1Z"/>
<path d="M754.4 428 L757.5 426.8 L761.3 428 L762.5 431.8 L763.8 428.6 L768.1 427.4 L772.5 426.1 L773.1 423 L775 422.4 L775.6 425.5 L774.4 429.3 L776.3 434.3 L777.5 438 L781.3 439.9 L786.3 441.1 L788.8 444.3 L792.5 446.1 L797.5 448 L801.3 451.8 L805 456.1 L807.5 460.5 L811.3 464.3 L815 468 L818.8 471.8 L821.9 474.9 L825 473.6 L826.9 478 L828.8 483 L830 486.8 L832.5 491.1 L837.5 490.5 L842.5 488.6 L846.9 487.4 L850 484.9 L853.8 486.8 L856.3 490.5 L856.9 495 L853.8 500 L851.9 503.8 L848.8 507.5 L848.1 512.5 L850 516.3 L851.9 521.3 L850 525.6 L851.3 530 L849.4 533.8 L846.3 536.3 L842.5 539.4 L838.8 541.3 L835 538.1 L830 536.9 L826.3 532.5 L823.8 527.5 L820 526.3 L821.3 523.1 L817.5 520 L813.8 523.1 L810 525 L806.3 526.3 L802.5 521.3 L800 516.3 L797.5 513.8 L795 510 L791.3 507.5 L788.8 510.6 L783.8 511.3 L781.3 513.1 L777.5 510 L773.8 508.1 L768.8 510 L765 513.1 L762.5 516.3 L757.5 516.9 L754.4 519.4 L753.1 523.1 L750 522.5 L746.3 525 L743.1 526.3 L741.3 522.5 L738.1 520 L738.8 516.9 L743.8 515 L746.9 512.5 L747.5 508.8 L750 505 L754.4 502.5 L753.1 498.8 L756.3 495 L756.3 493 L755 489.3 L753.8 485.5 L756.3 483 L758.8 480.5 L761.3 478 L756.3 475.5 L752.5 474.9 L750.6 472.4 L752.5 469.3 L756.3 466.1 L758.1 461.8 L758.8 456.8 L757.5 451.8 L756.3 446.8 L756.9 441.8 L758.1 437.4 L755 435.5 L753.1 431.8 L754.4 428Z"/>
<path d="M957.5 405.5 L956.9 410.3 L958.8 414 L955 416.5 L950 418.4 L948.1 420.9 L948.8 424 L943.8 425.9 L943.1 430.3 L946.3 434 L944.4 439 L941.3 442.8 L940.6 446.5 L938.8 449.6 L935 451 L931 450 L927 450.5 L925 452 L923.8 453.9 L922.5 457 L920 460.1 L915.6 462.6 L913.8 465.8 L913.1 470.1 L916.3 472 L915.6 476.4 L918.8 478.9 L920.6 477 L923.8 473.9 L928.8 473.3 L931.9 470.8 L933.8 466.4 L936.3 465.8 L940 469.5 L943.1 470.8 L943.8 467.6 L946.3 465.8 L950 463.9 L955 461.4 L960 458.3 L965 455.8 L969 452 L976.3 447.8 L979.4 442.8 L978.1 437.8 L975.6 434 L971.3 431.5 L966.3 429 L964.4 424 L965.6 419 L968.8 415.3 L973.1 412.1 L971.3 409.6 L967.5 407.1 L962.5 405.3 L957.5 405.5Z"/>
<path d="M971.9 463.3 L976.3 469.5 L972.5 473.3 L967.5 477 L962.5 480.8 L958.8 485.8 L955 488.9 L951.9 485.8 L953.8 482.6 L958.8 479.5 L963.8 475.8 L967.5 472 L970 467Z"/>
<path d="M630.6 507.5 L633.8 510 L637.5 513.1 L639.4 517.5 L637.5 522.5 L636.9 526.3 L635.6 531.3 L633.8 535 L631.9 540 L630 545 L629.4 551.3 L630 557.5 L631.9 562.5 L632.5 566.3 L630.6 571.3 L625 570 L620 568.1 L615 565 L610 561.9 L605 560 L600 560.6 L597.5 565 L592.5 561.3 L587.5 560 L586.9 555 L588.8 548.8 L591.3 546.3 L595 542.5 L600 537.5 L603.8 533.8 L607.5 531.3 L609.4 526.3 L612.5 521.3 L618.8 518.1 L625 512.5Z"/>
<path d="M753.1 582.5 L760 583.1 L761.3 578.1 L763.8 582.5 L768.8 585 L773.1 586.9 L774.4 589.4 L770 591.9 L763.8 592.5 L757.5 591.3 L755 587.5Z"/>
<path d="M827.5 614.4 L822.5 610 L818.1 609.4 L815 612.5 L811.9 614.4 L808.1 610 L805 609.4 L802.5 612.5 L800 608.1 L796.3 606.3 L792.5 604.4 L790 601.9 L787.5 606.3 L785 604.4 L782.5 600 L780 596.9 L775 595.6 L770 596.3 L768.1 601.3 L766.9 607.5 L763.8 615 L758.8 617.5 L755 621.3 L750.6 626.3 L750 631.3 L750.6 636.3 L753.8 640 L760 641.9 L767.5 643.8 L770 648.1 L768.8 653.8 L766.3 658.8 L765 662.5 L767.5 667.5 L771.3 672.5 L777.5 673.8 L782.5 673.1 L784.4 677.5 L783.8 682.5 L785 686.3 L788.1 688.8 L790 692.5 L793.8 696.9 L796.3 694.4 L800 696.3 L805 696.9 L810 697.5 L815 699.4 L820 698.8 L822.5 694.4 L826.3 693.8 L830 691.9 L833.8 692.5 L835 696.3 L838.8 699.4 L843.8 696.9 L848.8 693.8 L852.5 689.4 L850.6 685 L847.5 683.1 L842.5 681.3 L836.9 678.8 L832.5 673.8 L828.8 667.5 L826.3 661.3 L825 655 L823.1 650 L820.6 645 L820 638.8 L820.6 632.5 L822.5 626.3 L825 620Z"/>
<path d="M500.6 728.1 L503.1 730 L502.5 733.1 L500.6 735 L505 733.1 L508.8 732.5 L511.3 736.3 L514.4 741.3 L516.9 746.3 L520 751.3 L522.5 756.3 L523.8 759.1 L524.4 762.9 L522.5 766 L519.4 767.9 L520 771 L522.5 772.9 L526.3 771 L530 769.1 L535 767.3 L538.8 765.4 L543.1 765.4 L545 768.5 L546.3 773.5 L547.5 778.5 L550 782.9 L551.9 787.3 L553.8 791 L556.9 794.1 L560.6 793.5 L562.5 796 L562.5 800.4 L560 802.3 L557.5 804.8 L554.4 806.6 L551.3 805.4 L546.9 806.6 L546.3 809.8 L543.8 812.3 L540 815.4 L536.3 817.9 L532.5 819.8 L528.8 821.6 L526.3 819.8 L523.8 817.3 L521.3 819.8 L516.9 822.3 L516.3 819.8 L516.9 816 L514.4 814.8 L512.5 817.3 L513.8 821 L510 824.1 L505 822.3 L501.9 821 L500 823.5 L496.3 824.1 L491.3 825.4 L488.8 827.9 L482.5 829.1 L476.3 828.5 L471.3 826.6 L466.3 824.8 L461.3 824.1 L460 822.3 L459.4 816 L460.6 809.8 L460 803.5 L461.3 797.3 L460.6 791 L462.5 786 L461.3 778.8 L460 773.8 L457.5 770 L451.9 768.8 L453.8 765 L457.5 762.5 L462.5 761.3 L468.8 760.6 L471.9 757.5 L475 755 L476.3 750 L473.8 746.3 L477.5 743.8 L482.5 742.5 L487.5 740 L490 735 L492.5 731.3 L496.3 729.4Z"/>
<path d="M463.8 851 L470 850.4 L476.3 852.3 L482.5 854.1 L488.8 852.9 L495 852.3 L501.3 853.5 L505 852.9 L510 854.1 L513.1 854.8 L515 856 L518.8 861 L521.3 864 L523 870 L464.4 870 L464.4 864 L463.1 861 L461.3 857.3 L460 852.9Z"/>
<path d="M633.1 774.1 L636.3 775.4 L640 776.6 L643.8 777.3 L643.1 782.3 L641.9 788.5 L641.3 793.5 L640 798.5 L641.9 802.3 L643.8 806 L646.3 809.1 L651.3 811.6 L657.5 812.9 L661.3 812.3 L662.5 817.3 L663.8 821 L660 824.8 L658.1 827.9 L661.3 831 L658.1 834.8 L655 837.9 L650 838.5 L645 839.1 L640 839.8 L636.3 842.3 L632.5 844.1 L628.8 842.3 L623.8 839.8 L618.8 838.5 L615.6 838.5 L615 833.5 L611.3 831 L606.3 828.5 L601.3 826.6 L596.3 823.5 L591.3 820.4 L586.9 817.3 L585.6 812.3 L584.4 807.3 L585.6 803.5 L586.9 799.8 L588.8 794.8 L592.5 792.9 L597.5 790.4 L601.9 789.8 L607.5 791 L612.5 789.8 L614.4 786 L618.8 782.3 L623.8 780.4 L627.5 778.5 L630 776Z"/>
<path d="M591.9 398 L591.3 393.8 L593.1 390 L597.5 387.5 L603.8 385.6 L610 383.8 L615 382.5 L616.9 379.4 L615 376.3 L616.3 373.1 L612.5 372.5 L609.4 373.8 L608.8 370.6 L611.9 367.5 L616.3 365 L617.5 362.5 L623.1 360 L626.3 356.9 L630 355 L635 356.3 L640 356.9 L645 356.3 L648.1 355 L653.8 356.3 L654.4 361.3 L656.3 365 L659.4 367.5 L661.3 370.6 L665 372.5 L662.5 375 L657.5 374.4 L653 374 L649.4 376.3 L648.1 378.1 L651.9 380.6 L655 377.5 L655.6 382.5 L657.5 386.3 L662.5 388.8 L666.3 391.3 L668.1 395 L662.5 398 L658.8 401.8 L658.1 405.5 L657.5 410.5 L659.4 414.3 L658.1 418 L656.3 423 L656.9 428 L659.4 431.8 L662.5 434.9 L666.3 437.4 L666.9 440.5 L665 445.5 L663.1 450.5 L660 451.8 L656.3 455.5 L652.5 458 L649.4 454.9 L646.3 459.3 L643.8 464.3 L640 468 L636.3 471.8 L631.3 473.6 L626.3 476.1 L621.9 479.3 L620.6 484.3 L618.8 481.1 L615.6 479.9 L612.5 476.8 L608.8 473 L606.3 468 L605 463 L603.8 457.4 L601.9 453.6 L605 450.5 L607.5 448 L611.3 446.8 L612.5 444.3 L608.8 441.8 L606.3 439.3 L603.8 435.5 L602.5 431.8 L598.8 433 L596.3 429.3 L593.8 423 L592.5 416.8 L590 413 L588.8 408.6 L590.6 403Z"/>
<path d="M395.6 348.8 L400 347.5 L403.8 350.6 L408.8 347.8 L413.1 346.9 L417.5 350 L420.6 351.9 L425 346.3 L430 340 L435.6 340 M451.3 370 L450 375 L446.3 378.8 L442.5 382.5 L441.3 387.5 L440 392.5 L438.8 398 L438.1 398 L434.4 403 L430 409.3 L426.3 409.9 M470 369.4 L475 373.1 L481.3 376.3 L486.3 380 L491.3 383.1 L496.3 385 L500 386.3 L501.9 390 L503.8 395 L505 398 L508.8 403 L507.5 409.3 L509.4 415.5 L511.3 421.8 L513.8 428 L514.4 433 L518.8 433.6 L523.8 434.3 L526.9 438 L530 438 M373.8 391.9 L380 393.1 L385 392.5 L388.8 393.1 L391.3 398 L396.3 399.9 L406.3 406.8 L416.3 405.8 L423.1 406.1 L426.3 409.9 L420 412.4 L416.9 416.8 L416.3 422.4 L418.8 426.1 L423.1 431.1 L427.5 433.6 L432.5 436.1 L435.6 439.9 M365 398 L366.3 404.3 L368.1 411.8 L373.8 416.8 L373.1 423 M463.8 442.4 L468.8 441.8 L475 441.8 L477.5 446.1 L480 450.5 L485 454.3 L491.3 458 L496.3 456.8 L500 456.8 L503.8 456.1 L506.3 453 L508.8 449.3 L511.9 444.3 L513.8 438 L514.4 433 M561.3 353.1 L562.5 357.5 L565 361.9 L566.9 365.6 L563.8 370 L561.3 375 L558.1 380 L557.5 385 L555.6 388.8 L556.9 393.8 L558.1 398 L557.5 401.8 L555.6 405.5 L555 410.5 L552.5 414.3 L553.1 418 L550.6 421.1 M566.9 365.6 L571.3 365 L577.5 364.4 L581.9 363.8 L585 366.3 L586.9 369.4 L591.9 371.3 L594.4 375 L596.3 378.8 L598.8 381.3 L603.8 381.9 L607.5 382.5 L612 383 M657 341 L653.8 343.8 L647.5 346.9 L641.3 348.8 L638.8 351.3 L639.4 356.3 M654 355.6 L659.4 355 L662.5 352.8 L665 355 L665.6 360 L668.8 362.5 L675 365.6 L680 366.3 L683.8 364.4 M695 344.4 L694.4 348.8 L691.3 351.3 L690.6 356.3 L689.4 361.3 L686.3 363.1 L683.8 364.4 L686.3 368.1 L687.5 371.3 L692.5 371.9 L700 373.1 L706.3 373.1 M733.1 345 L728.8 348.8 L723.8 351.3 L723.1 355 L721.3 360 L717.5 363.8 L715.6 368.1 L711.3 371.3 L706.3 373.1 L705 377.5 L703.8 382.5 L702.5 387.5 L701.3 392.5 L700 395 L697 398 L691.3 406.1 L685 405.5 L680.6 403 L678.8 398 L676 394 L668.1 395 M691.3 406.1 L695.6 403 L700 408.6 L705 409.9 L710 411.8 L715 415.5 L720 418.6 L725 423 L731.3 426.8 L736.3 428.6 L735 432.4 L730 434.3 L726.3 436.8 L725 441.1 L726.9 444.9 M788.8 371.9 L785 375 L782.5 380 L781.3 383.8 L777.5 386.3 L773.8 390 L770 392.5 L765.6 394.4 L765 398 L761.3 401.8 L758.1 405.5 L756.3 410.5 L755 416.8 L753.1 423 L754.4 428 M830 390 L831.3 393.8 L830 398 L833.1 401.8 L833.8 406.8 L830 410.5 L826.9 414.3 L828.8 418.6 M828.8 418.6 L825 419.9 L820 418.6 L815 416.1 L810 416.8 L805 416.1 L800 417.4 L795 416.8 L791.9 420.5 L790 424.9 L790.6 430.5 L789.4 435.5 L786.9 439.9 L786.3 441.1 M828.8 418.6 L832.5 419.3 L837.5 418.6 L838.8 423 L840.6 424.9 L838.1 429.3 L835.6 433 L832.5 436.8 L833.1 440.5 L836.3 441.8 L835.6 448 L835 453 L832.5 456.8 L830 460.5 L828.1 465.5 L827.5 470.5 L825 473.6 M868.8 388.1 L872.5 392.5 L877.5 395 L876.3 398 L875 403 L878.8 405.5 L881.3 410.5 L883.1 415.5 L877.5 418 L874.4 423 L874.4 429.3 L873.1 435.5 L870 440.5 L867.5 446.8 L865 453 L860 458 L855.6 463 L854.4 468 L856.3 471.8 L859.4 474.3 L858.8 479.3 L856.3 484.3 L853.8 486.8 M874.4 435.5 L880 436.8 L883.8 438.6 L880 441.1 L875 443 L872.5 446.8 L877.5 448 L880.6 450.5 L878.8 454.3 L873.8 456.8 L870 459.3 L872.5 461.8 L877.5 463 L881.3 468 L885 471.8 L887.5 476.8 L888.8 480.5 L885 484.3 L882.5 488 L881.3 493 L880 495 L878.8 500 L880 505 L885 508.8 L888.1 512.5 L888.8 516.9 M881.3 468 L885 465.5 L891.3 466.1 L895 463 L900 459.9 L905 461.4 L907.5 457 L908.8 452 L907.5 446.5 L906.9 441.5 L909.4 435.3 L908.1 430.3 L913.8 427.8 L920 424 L925 425.3 L928.8 424 L927.5 419 L931.9 416.3 L938.8 414.6 L943.8 415.3 L948.1 418 M885 471.8 L892.5 473 L900 470.8 L903.8 472 L908.8 473.3 L913.1 470.1 M856.9 495 L861.3 493.8 L866.3 495.6 L871.3 495 L876.3 493.8 L880 495 M969 452 L975 455.8 L979.4 458.3 L980 462 L976.9 465.1 L975 467 L976.3 469.5 M943.1 470.8 L945 474.5 L948.1 478.3 L951.9 482 L953.8 482.6 M918.8 478.9 L920 484.5 L923.1 489.5 L925.6 494.5 L926.9 500.1 M666.9 440.5 L672.5 440.5 L675 436.8 L677.5 434.3 L680 438 L678.8 441.8 L683.8 443 L688.8 440.5 L691.3 435.5 L695 433.6 L700 431.8 L702.5 433.6 L707.5 435.5 L710 439.3 L712.5 444.3 L717.5 448 L722.5 447.4 L726.9 444.9 M726.9 444.9 L732.5 445.5 L737.5 447.4 L743.8 448.6 L750 449.3 L756.3 446.8 M726.9 444.9 L728.1 450.5 L730 455.5 L730.6 461.8 L729.4 466.8 L726.3 470.5 L721.3 473 L720.6 478 L723.1 484.3 L717.5 486.8 L713.8 488 L711.3 493 L710 498 L711.3 503.8 L715.6 507.5 L716.3 513.1 M632.5 474.3 L635 478 L640 480.5 L642.5 485.5 L645 490.5 L650 494.3 L655 496.9 L661.3 497.5 L667.5 494.4 L670 496.9 L675 499.4 L680 498.8 L685 501.9 L687.5 506.3 L691.3 510 L695 513.1 L700 513.8 L705 513.1 L710 511.3 L716.3 513.1 M650 494.3 L643.8 498 L638.8 501.8 L636.3 506 L630.6 507.5 M716.3 507.5 L720 506.3 L723.8 507.5 L727.5 511.3 L731.3 515 L735 518.8 L738.8 521.3 M500 498 L506.3 497.4 L512.5 498 L518.8 500.5 L525 501.8 L531.3 501.8 L533.1 501.8 M467.5 491.3 L472.5 492.5 L477.5 495 L482.5 498.8 L487.5 500 L492.5 499.4 L495 503.8 L497.5 500 L500 498.1 M453.8 498.8 L457.5 502.5 L461.3 506.3 L468.1 508.1 L467.5 510 L461.3 510 L458.8 512.5 L460 516.3 L463.8 519.4 L468.8 521.9 L472.5 525 L476.3 527.5 L480 527.5 L483.8 530 L486.3 532.5 L485 536.3 L487.5 539.4 L486.3 542.5 L482.5 543.8 L480.6 547.5 L479.4 552.5 L478.8 555.6 M478.8 555.6 L475 560 L468.8 565 L462.5 569.4 L456.3 572.5 L450 574 L443.8 573.8 L439.4 572.5 L438.1 568.1 M478.8 555.6 L482.5 560 L486.3 563.8 L490 567.5 L493.8 570.6 M543 509 L543.1 513.8 L541.3 518.8 L541.9 522.5 L539.4 527.5 L537.5 532.5 L533.8 536.3 L530 539.4 L526.3 542.5 L523.8 545.6 L520 548.1 L517.5 550 L512.5 551.3 L507.5 551.3 L502.5 551.9 L500.6 556.3 L499.4 561.3 L496.3 566.3 L493.8 570.6 L487.5 575 L482.5 578.8 L478.8 582.5 L477.5 587.5 L475 592.5 L472.5 598 L470 599.3 L466.3 603 L465.6 608 L468.8 610.5 L468.1 616.8 L471.3 621.1 L476.3 624.9 L479.4 629.3 L480.6 635.5 L483.8 641.1 L485.6 646.1 L486.3 651.8 L484.4 656.1 L480.6 659.9 L476.9 663 M521.9 551.3 L520 556.3 L516.3 559.4 L515 556.3 L511.3 557.5 L508.1 561.3 L507.5 566.3 L505 568.8 L508.8 571.3 L512.5 575 L517.5 576.9 L522.5 573.8 L526.3 573.1 L526.9 580 L527.5 583.8 M527.5 583.8 L532.5 585 L537.5 586.3 L542.5 583.1 L546.9 581.3 L550 583.1 L555 578.8 L558.8 575 L563.8 573.1 L567.5 577.5 L572.5 576.9 L573.8 570 L577.5 567.5 L581.3 563.8 L586.3 563.8 L588.8 567.5 L592 572 L596 570 L600 575 L606.3 578.1 L612.5 581.3 L618.8 583.1 L625 586.3 L626.9 590 L623.8 595 L620 598 M565 506.3 L566.3 512.5 L570 517.5 L573.1 523.8 L575 528.8 L578.8 533.8 L580.6 540 L581.9 545 L587.5 545.6 L590 543.8 L588.8 548.8 M587.5 560 L583.8 563.8 M416.9 641.8 L418.1 636.8 L421.3 634.9 L423.8 638 L425.6 633.6 L428.8 631.8 L433.8 633 L438.1 634.3 L441.3 638 L442.5 641.8 L440.6 645.5 L442.5 649.3 L447.5 649.9 L451.3 652.4 L456.3 651.8 L461.3 653 L465 651.8 L466.3 655.5 L470 659.3 L475 661.8 L476.9 663 M476.9 663 L475.6 668 L473.1 672.4 L475 676.8 L477.5 683 L482.5 685.5 L486.3 686.1 L490 688 L493.8 684.3 L495 678 L495.6 671.8 L496.9 666.1 L501.3 663 L505 666.1 L508.8 669.3 L513.8 668.6 L520 666.8 M527.5 583.8 L526.9 590 L525.6 598 L528.8 599.9 L530.6 603.6 L528.8 607.4 L525 605.5 L520 606.8 L515 607.4 L516.3 613 L518.8 619.3 L521.3 625.5 L523.8 631.8 L525.6 638 L526.3 643 L524.4 649.3 L522.5 655.5 L521.3 661.8 L520 666.8 L526.3 668.6 L531.3 670.5 L535.6 673.6 L535 678 L533.1 681.8 L532.5 686.8 L533.8 690.5 M533.8 690.5 L528.8 694.9 L523.8 699.3 L520 703 L517.5 706 L513.8 707.5 L510.6 711.3 L510 716.3 L511.9 721.3 L512.5 726.3 L510.6 730.6 L508.8 732.5 M533.8 690.5 L538.8 689.9 L543.8 689.3 M543.8 689.3 L545.6 684.3 L547.5 679.3 L552.5 676.8 L553.1 673 L550 669.9 L546.9 667.4 L548.1 664.3 L552.5 663 L553.8 659.3 L556.3 656.1 L560 654.9 L563.1 656.1 L561.3 650.5 L561.9 645.5 L560 641.8 L562.5 636.8 L565 633 L570 631.1 L573.1 628.6 L575 631.1 L580 632.4 L585 634.3 L590 633.6 L592.5 629.3 L594.4 626.8 L598.8 627.4 L600 630.5 L596.9 634.3 L595 638 L596.9 642.4 L602.5 644.9 L606.3 648.6 L611.3 650.5 L616.3 649.3 L622.5 648.6 L628.8 646.8 L633.8 643.6 L636.3 640.5 L642.5 639.3 L645 636.1 L651.3 634.9 L655 634.3 L660 636.1 L666.9 636.8 M543.8 689.3 L547.5 691.8 L552.5 693 L555 696.8 L560 699.9 L565 703 L567.5 706 L571.3 707.5 L576.3 712.5 L580 715.6 L583.8 716.3 L587.5 715.6 M427.5 724.6 L432.5 726.9 L435.6 726.3 L437.5 730.6 L442.5 733.1 L448.1 734.4 L450 738.1 L455 738.8 L458.8 736.9 L462.5 738.1 L465 741.9 L470 744.4 L473.8 746.3 M673.8 581.3 L673.1 576.3 L673.8 570 L675 563.8 L680 561.9 L685 560.6 L690 560 L689.4 555 L695 552.5 L698.8 548.8 L703.8 547.5 L707.5 545.6 L712.5 544.4 L717.5 546.9 L721.9 549.4 L725 552.5 L727.5 557.5 L731.3 563.8 L735 568.1 L737.5 571.3 L742.5 575.6 L747.5 579.4 L753.1 582.5 M673.8 581.3 L670 582.5 L666.3 580 L662.5 582.5 L660 583.1 L658.1 577.5 L656.3 573.1 L652.5 575 L651.3 571.3 L653.8 567.5 L655 563.8 L652.5 558.8 L650 555 L647.5 551.3 L643.8 547.5 L641.3 543.8 L637.5 541.3 L636.3 536.3 L635 532.5 M660 583.1 L658.8 587.5 L653.8 588.8 L655 593.8 L656.3 598 L656.3 603 L660 609.3 L663.8 615.5 L667.5 621.8 L666.9 629.3 L666.9 636.8 L669.4 641.1 L672.5 642.4 L675 639.9 L677.5 644.3 L678.8 646.8 M630.6 571.3 L633.8 576.3 L637.5 579.4 L642.5 581.3 L644.4 585 L643.1 588.8 L647.5 590 L652.5 588.8 L653.8 588.8 M643.1 588.8 L637.5 591.3 L632.5 593.1 L627.5 596.3 L625 598 M743.1 526.3 L745.6 531.3 L746.9 537.5 L745.6 543.8 L745 548.8 L738.8 550.6 L737.5 556.3 L734.4 560 L731.3 563.8 M678.8 646.8 L683.8 644.9 L690 644.3 L693.8 647.4 L697.5 650.5 L700.6 652.4 L701.9 648.6 L704.4 652.4 L710 649.3 L715 648 L717.5 648.6 L716.9 642.4 L720 643 L721.3 646.1 L726.3 646.1 L732.5 647.4 L737.5 644.3 L743.8 641.1 L750.6 636.3 M678.8 646.8 L676.9 651.8 L673.1 656.8 L671.9 660.5 L673.8 664.3 L672.5 669.3 L670 673 L671.3 676.1 L675.6 678 L677.5 681.8 L680 685.5 L683.1 689.3 L683.1 694.3 L680 698 L677.5 700.5 L676.9 705 M826.3 532.5 L822.5 538.8 L817.5 542.5 L815 545 L817.5 548.8 L820 553.8 L822.5 558.1 M822.5 558.1 L826.3 556.3 L830 555.6 L832.5 560 L835 563.8 L837.5 561.9 L841.3 562.5 L845 566.3 L847.5 571.3 L848.8 576.3 L851.3 577.5 M822.5 558.1 L818.8 561.3 L820 566.3 L816.3 570 L813.8 575 L810 576.3 L805 578.8 L803.8 583.8 L800.6 587 L796.9 591.3 L792.5 593.8 L788.8 598.1 L790 601.9 M770 592 L770 596.3 M773.1 590 L771.3 593.8 L768.8 595.6 M587.5 715.6 L593.8 715.6 L600 716.3 L606.3 716.3 L612.5 715.6 L615 712.5 L621.3 712.5 L627.5 713.1 L628.8 710.6 L631.3 713.8 L636.3 712.5 L640 709.4 L645 708.8 L650 710.6 L655 711.3 L658.8 709.4 L662.5 712.5 L667.5 710.6 L672.5 707.5 L676.9 705 M587.5 715.6 L589.4 721.3 L591.3 727.5 L593.1 732.5 L590 737.5 L587.5 742.5 L586.3 747.5 L585.6 753.8 L587.5 760 L590 765 L591.9 770 L593.8 775 L597.5 781.3 L600.6 787.5 L601.9 789.8 M676.9 705 L682.5 706.3 L687.5 706.9 L689.4 711.3 L693.1 715 L694.4 720 L696.3 725 L695 730 L692.5 735 L690 738.8 M690 738.8 L686.3 742.5 L683.8 746.3 L678.8 749.4 L675.6 752.5 L673.1 757.5 L670.6 762.5 L669.4 767.5 L667.5 771.3 L662.5 773.8 L657.5 775 L652.5 772.5 L647.5 772.5 L643.8 777.3 M690 738.8 L696.3 741.3 L701.9 743.1 L705 737.5 L708.8 731.3 L713.8 726.3 L718.8 722.5 L725 721.3 L731.3 717.5 L737.5 715.6 L741.3 718.8 L746.3 720 L751.3 716.3 L753.8 711.3 L752.5 706.3 L753.8 700 L755.6 695 L760 691.3 L766.3 688.1 L771.3 687.5 L776.3 690 L780 693.8 L783.8 691.3 L785 686.3 M701.9 743.1 L705 747.5 L708.8 751.3 L713.8 752.5 L718.8 754.4 L723.8 753.8 L722.5 760 L722.5 766.3 L725 772.5 L728.8 778.8 L732.5 785 L737.5 786.9 L742.5 789.4 L745 790.4 M708.8 751.3 L705 753.8 L705 760 L703.8 766.3 L703.1 771.9 L700 773.8 L700.6 780 L696.3 782.5 L691.3 785.6 L686.3 790 L683.8 793.8 L683.1 800 L682.5 803.8 L677.5 802.5 L673.1 799.4 L670.6 803.8 L668.8 809.8 L665 812.9 L661.9 812.3 M780 693.8 L780 700 L778.8 705 L776.9 710 L776.3 716.3 L780 720 L782.5 723.8 L783.1 728.8 L780 732.5 L780.6 737.5 L783.8 742.5 L787.5 747.5 L791.3 751.9 L795.6 756.3 M562.5 798 L566.3 802.5 L571.3 803 L576.3 799.5 L580 800.4 L582.5 804 L584.4 804.8 M505 852.9 L507.5 852.3 L511.3 851 L515 848.5 L518.8 844.8 L522.5 842.3 L523.8 837.3 L522.5 832.3 L526.3 829.1 L528.8 831 L532.5 830.4 L535 827.3 L536.3 823.5 L535.6 819.8 M790 601.9 L788.8 598.1 M749.4 638 L743.8 641.1"/>
</g>
<path d="M974.6 615.9 L977 613.5 L981 610.2 L984.3 607 L988.3 602.9 L992.4 598.9 L997.2 595.7 L1002.1 592.4 L1007 590 L1011.8 588.4 L1015.9 587.6 L1020.7 585.1 L1023.5 584.6 L1021.6 586.7 L1017.5 589.2 L1021.6 589.5 L1019.9 592.4 L1019.1 594.4 L1020.7 598.1 L1024 601.3 L1028 601.3 L1031.3 598.9 L1034.5 598.1 L1038.6 600.5 L1039.4 604.6 L1037.8 608.6 L1037 613.5 L1034.5 618.3 L1032.1 623.2 L1029.7 627.3 L1026.4 631.3 L1022.4 634.6 L1019.1 637 L1015.9 635.4 L1013.5 632.1 L1010.2 630.5 L1006.2 631.3 L1002.1 629.7 L999.7 626.5 L998.9 622.4 L996.4 619.2 L992.4 617.5 L988.3 619.2 L985.1 621.6 L984.3 624.8 L981.8 622.4 L979.4 620.3 L976.2 619.2Z" fill="#ccd6e4" stroke="#0d1016" stroke-width="1.3"/>
<path d="M1056.4 577.8 L1058 575.4 L1062.1 574.3 L1066.9 573.8 L1071.8 573 L1073.4 571.7 L1075.9 573 L1078.3 573.8 L1081.5 576.2 L1084.8 580.3 L1087.2 584.3 L1088 588.4 L1086.4 590.8 L1083.1 590.8 L1079.9 589.2 L1075.9 586.7 L1071.8 584.3 L1067.7 582.7 L1063.7 583.5 L1059.6 585.1 L1058 581.9Z" fill="#ccd6e4" stroke="#0d1016" stroke-width="1.3"/>
<path d="M911 667 L913.8 664.5 L915.4 661.3 L918.6 658.1 L922.7 656.4 L926.7 654.8 L930 654 L933.2 655.6 L934.4 658.9 L933.2 662.9 L930.8 666.2 L928.4 668.6 L925.1 671 L922.7 673.5 L921.1 675.9 L917.8 674.3 L914.6 674.3 L912.2 672.6 L911.3 670.2Z" fill="#ccd6e4" stroke="#0d1016" stroke-width="1.3"/>
<path d="M921.1 689.7 L921.9 685.6 L924 682.4 L924.6 680.7 L925.9 684 L927.9 686.4 L930.8 686.9 L933.2 686.4 L934 688.4 L932.1 689.7 L929.5 688.8 L926.7 687.7 L924.3 688.8 L922.7 690.5Z" fill="#7e9cc4" stroke="#0d1016" stroke-width="1.3"/>
<path d="M332.5 866 L337 861 L343 858.5 L348 857 L351.5 853.5 L354 852.3 L356.3 855 L356.3 866Z" fill="#ccd6e4" stroke="#0d1016" stroke-width="1.3"/>
<path d="M349.3 850.8 L350.8 846.8 L353 847 L353.6 850 L351.6 852Z" fill="#e6c3cc" stroke="#0d1016" stroke-width="1.3"/>
<path d="M795.6 756.5 L792.5 761.3 L791.9 765.6 L795.6 769 L799.8 770.6 L798.1 765 L796.9 760Z" fill="#fff" stroke="#0d1016" stroke-width="1"/>
<circle cx="1011.3" cy="647.3" r="1.6" fill="#0d1016"/>
<circle cx="940.6" cy="399.6" r="1.1" fill="#0d1016"/>
<circle cx="315.3" cy="351.3" r=".9" fill="#0d1016"/>
<ellipse cx="875" cy="548.8" rx="3.3" ry="1.4" transform="rotate(-20 875 548.8)" fill="#dde4ee" stroke="#0d1016" stroke-width="1"/>
<ellipse cx="757.2" cy="472.1" rx="2.9" ry="1.4" fill="#fff" stroke="#0d1016" stroke-width=".8"/>
<ellipse cx="554.4" cy="633.6" rx="5" ry="6.2" transform="rotate(20 554.4 633.6)" fill="none" stroke="#0d1016" stroke-width="1.1"/>
<circle cx="487.5" cy="526.3" r="1" fill="#dfe6f0" stroke="#0d1016" stroke-width=".8"/><path d="M489.2 530.5L491.2 534L488.4 535Z" fill="#dfe6f0" stroke="#0d1016" stroke-width=".8"/>
<path d="M631.2 527.6L635.4 527.4L634.8 534.6L631 535.2Z" fill="#fff" stroke="#0d1016" stroke-width="1"/>
<path d="M540.3 766L543.4 764.6L546.4 767.6L546.8 771.8L543.6 773.6L541.6 770Z" fill="none" stroke="#0d1016" stroke-width="1.1"/>
<path d="M933.8 612.3L984.5 677.3M1025.5 558L1075.5 623" stroke="#1c1c1c" stroke-width="1.1" fill="none"/>
<rect x="38" y="834" width="324.5" height="40" fill="#fff" stroke="#2a2d33" stroke-width="1.1"/>
<path d="M332.5 866 L337 861 L343 858.5 L348 857 L351.5 853.5 L354 852.3 L356.3 855 L356.3 866Z" fill="#ccd6e4" stroke="#0d1016" stroke-width="1"/>
<circle cx="350" cy="838" r="1.1" fill="#fff" stroke="#0d1016" stroke-width=".8"/>
</g>
<ellipse cx="629.3" cy="390" rx="7.5" ry="9.5" fill="url(#halo)"/>
<ellipse cx="629.3" cy="390" rx="4.1" ry="6.2" fill="url(#fl)" filter="url(#fb)"/>
<ellipse cx="629.3" cy="392.3" rx="2.2" ry="3.3" fill="#ffe27a" opacity=".9" filter="url(#fb)"/>
<rect x="629" y="396" width=".9" height="3.8" fill="#4a3424"/>
<rect x="626" y="399.5" width="7.1" height="16" rx="1.6" fill="#fbf0dc"/>
</svg>
<div id="side">
<div class="it" style="top:9.5px"><div class="bd"><b>LUN</b><i>25</i></div><div class="nm" style="letter-spacing:-0.11px">Teruel y Albarracín / Jerez de la Frontera</div><div class="dot"></div></div>
<div class="it" style="top:70.8px"><div class="bd"><b>MAR</b><i>26</i></div><div class="nm" style="letter-spacing:-0.21px">Huesca / Málaga</div><div class="dot"></div></div>
<div class="it" style="top:132.1px"><div class="bd"><b>MIÉ</b><i>27</i></div><div class="nm" style="letter-spacing:-0.14px">Urgel</div><div class="dot"></div></div>
<div class="it" style="top:193.4px"><div class="bd"><b>JUE</b><i>28</i></div><div class="nm" style="letter-spacing:-0.5px">Jaca / Cuenca</div><div class="dot"></div></div>
<div class="it" style="top:254.7px"><div class="bd"><b>VIE</b><i>29</i></div><div class="nm" style="letter-spacing:-0.28px">Tarazona / Calahorra y La Calzada-Logroño</div><div class="dot"></div></div>
<div class="it" style="top:316px"><div class="bd"><b>SÁB</b><i>30</i></div><div class="nm" style="letter-spacing:0.01px">Vitoria / Tarrasa</div><div class="dot"></div></div>
<div class="it" style="top:377.3px"><div class="bd"><b>DOM</b><i>31</i></div><div class="nm" style="letter-spacing:-0.24px">Bilbao / Guadix</div><div class="dot"></div></div>
<div id="mon">Junio 2026</div><div id="monl"></div>
<div class="it" style="top:488.3px"><div class="bd"><b>LUN</b><i>1</i></div><div class="nm" style="letter-spacing:-0.27px">San Sebastián / Santander</div><div class="dot"></div></div>
<div class="it" style="top:549.5px"><div class="bd"><b>MAR</b><i>2</i></div><div class="nm" style="letter-spacing:-0.15px">Gerona / Mondoñedo-Ferrol</div><div class="dot"></div></div>
</div>
<div id="sb"></div>
</body>
</html>
